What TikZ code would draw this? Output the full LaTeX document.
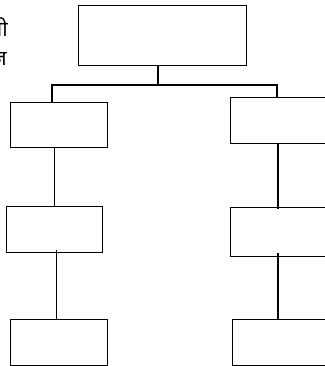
\documentclass[tikz,border=0pt]{standalone}
\usepackage{fontspec}
\newfontfamily\devfont[Script=Devanagari]{Noto Sans}
\begin{document}
\begin{tikzpicture}[x=1pt,y=-1pt,
  box/.style={draw,line width=1.2pt,rectangle,inner sep=0pt,anchor=north west},
  link/.style={line width=1.2pt},
  devtext/.style={inner sep=0pt,anchor=base east,font=\devfont\fontsize{21}{25}\selectfont}]
\useasboundingbox (0,0) rectangle (324,366);
\node[box,minimum width=168pt,minimum height=60pt] (T) at (78,5) {};
\node[box,minimum width=97pt,minimum height=45pt] (L1) at (10,102) {};
\node[box,minimum width=96pt,minimum height=46pt] (L2) at (6,206) {};
\node[box,minimum width=97pt,minimum height=46pt] (L3) at (10,319) {};
\node[box,minimum width=110pt,minimum height=46pt] (R1) at (230,97) {};
\node[box,minimum width=110pt,minimum height=49pt] (R2) at (230,207) {};
\node[box,minimum width=110pt,minimum height=46pt] (R3) at (232,319) {};
\coordinate (J) at (158,85);
\coordinate (JL) at (52,85);
\coordinate (JR) at (277,85);
\draw[link] (T.south -| J) -- (J);
\draw[link] (JL |- L1.north) -- (JL) -- (JR) -- (JR |- R1.north);
\draw[link] ([xshift=-4.5pt]L1.south) -- ([xshift=-4.5pt]L1.south |- L2.north);
\draw[link] ([xshift=2pt,yshift=3pt]L2.south) -- ([xshift=2pt]L2.south |- L3.north);
\draw[link] (278,143) -- (278,209);
\draw[link] (278,253) -- (278,319);
\node[devtext] (t1) at (8,37) {ती};
\node[devtext] (t2) at (7,66) {ज़};
\end{tikzpicture}
\end{document}
